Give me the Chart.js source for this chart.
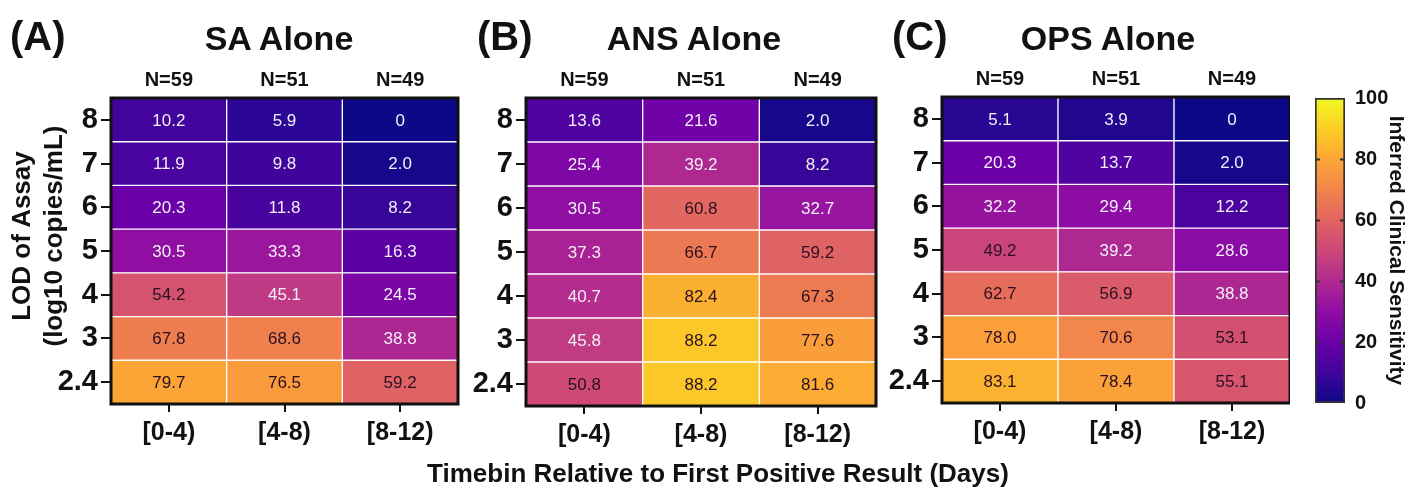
<!DOCTYPE html>
<html>
<head>
<meta charset="utf-8">
<script src="https://cdn.jsdelivr.net/npm/chart.js@4/dist/chart.umd.min.js"></script>
<style>
  body { margin:0; background:#fff; }
  #wrap { position:relative; width:1407px; height:491px; overflow:hidden; font-family:"Liberation Sans", Arial, sans-serif; color:#111; }
  canvas { position:absolute; top:0; }
  .lbl { position:absolute; font-weight:bold; white-space:nowrap; }
  .panel { font-size:40px; line-height:40px; top:16px; }
  .ttl { font-size:34px; line-height:34px; top:21px; transform:translateX(-50%); }
  .xt { font-size:26px; line-height:26px; top:460px; transform:translateX(-50%); }
  .yt { font-size:26px; line-height:32px; left:37px; top:236px; text-align:center; transform:translate(-50%,-50%) rotate(-90deg); }
</style>
</head>
<body>
<div id="wrap">
  <canvas id="chartA" width="465" height="491" style="left:0"></canvas>
  <canvas id="chartB" width="415" height="491" style="left:465px"></canvas>
  <canvas id="chartC" width="410" height="491" style="left:880px"></canvas>
  <canvas id="chartBar" width="117" height="491" style="left:1290px"></canvas>
  <div class="lbl panel" style="left:10px">(A)</div>
  <div class="lbl panel" style="left:477px">(B)</div>
  <div class="lbl panel" style="left:892px">(C)</div>
  <div class="lbl ttl" style="left:279px">SA Alone</div>
  <div class="lbl ttl" style="left:694px">ANS Alone</div>
  <div class="lbl ttl" style="left:1108px">OPS Alone</div>
  <div class="lbl yt">LOD of Assay<br>(log10 copies/mL)</div>
  <div class="lbl xt" style="left:718px">Timebin Relative to First Positive Result (Days)</div>
</div>
<script>
const timebins = ['[0-4)', '[4-8)', '[8-12)'];
const nCounts = [59, 51, 49];
const lodLevels = ['2.4', '3', '4', '5', '6', '7', '8'];

// rows go from LOD 2.4 (bottom) up to 8 (top), columns follow timebins
const saAlone = [
  [79.7, 76.5, 59.2],
  [67.8, 68.6, 38.8],
  [54.2, 45.1, 24.5],
  [30.5, 33.3, 16.3],
  [20.3, 11.8, 8.2],
  [11.9, 9.8, 2.0],
  [10.2, 5.9, 0]
];
const ansAlone = [
  [50.8, 88.2, 81.6],
  [45.8, 88.2, 77.6],
  [40.7, 82.4, 67.3],
  [37.3, 66.7, 59.2],
  [30.5, 60.8, 32.7],
  [25.4, 39.2, 8.2],
  [13.6, 21.6, 2.0]
];
const opsAlone = [
  [83.1, 78.4, 55.1],
  [78.0, 70.6, 53.1],
  [62.7, 56.9, 38.8],
  [49.2, 39.2, 28.6],
  [32.2, 29.4, 12.2],
  [20.3, 13.7, 2.0],
  [5.1, 3.9, 0]
];
const colorTicks = [0, 20, 40, 60, 80, 100];

const FONT = '"Liberation Sans", Arial, sans-serif';
Chart.defaults.font.family = FONT;
Chart.defaults.color = '#111';

// plasma colormap
const plasmaStops = ['#0d0887','#41049d','#6a00a8','#8f0da4','#b12a90','#cc4778','#e16462','#f2844b','#fca636','#fcce25','#f0f921'];
function hexRgb(h){ return [1,3,5].map(i=>parseInt(h.slice(i,i+2),16)); }
function plasma(v){
  let t = Math.max(0, Math.min(1, v/100))*10;
  let i = Math.min(9, Math.floor(t)), f = t-i;
  let a = hexRgb(plasmaStops[i]), b = hexRgb(plasmaStops[i+1]);
  let c = a.map((x,k)=>Math.round(x+(b[k]-x)*f));
  return 'rgb('+c.join(',')+')';
}

const cellText = {
  id:'cellText',
  afterDatasetsDraw(chart){
    const ctx = chart.ctx;
    ctx.save();
    ctx.font = '17px ' + FONT;
    ctx.textAlign = 'center';
    ctx.textBaseline = 'middle';
    chart.data.datasets.forEach((ds, di)=>{
      chart.getDatasetMeta(di).data.forEach((el, i)=>{
        const v = ds.cellValues[i];
        const p = el.getCenterPoint();
        ctx.fillStyle = v < 47 ? '#f4eef8' : '#2a1020';
        ctx.fillText(v === 0 ? '0' : v.toFixed(1), p.x, p.y + 1);
      });
    });
    ctx.restore();
  }
};

const frame = {
  id:'frame',
  afterDraw(chart){
    const a = chart.chartArea, ctx = chart.ctx;
    ctx.save();
    ctx.strokeStyle = '#111';
    ctx.lineWidth = 3;
    ctx.strokeRect(a.left, a.top, a.right-a.left, a.bottom-a.top);
    ctx.restore();
  }
};

// small inward tick marks on both edges of the colour bar
const innerTicks = {
  id:'innerTicks',
  afterDraw(chart){
    const a = chart.chartArea, ctx = chart.ctx, y = chart.scales.y;
    ctx.save();
    ctx.strokeStyle = '#333';
    ctx.lineWidth = 2;
    y.ticks.forEach(t=>{
      if (t.value === y.min || t.value === y.max) return;
      const py = Math.round(y.getPixelForValue(t.value)) + 0.5;
      ctx.beginPath();
      ctx.moveTo(a.left, py); ctx.lineTo(a.left + 5, py);
      ctx.moveTo(a.right - 5, py); ctx.lineTo(a.right, py);
      ctx.stroke();
    });
    ctx.restore();
  }
};

function makePanel(id, values, yW, rightPad, top, bottom){
  const datasets = values.map((row, r)=>({
    data: row.map(()=>[r, r+1]),
    cellValues: row,
    backgroundColor: row.map(plasma),
    borderColor: '#fff',
    borderWidth: 1,
    borderSkipped: false,
    grouped: false,
    barPercentage: 1,
    categoryPercentage: 1
  }));
  new Chart(document.getElementById(id), {
    type: 'bar',
    data: { labels: timebins, datasets },
    options: {
      responsive: false,
      animation: false,
      layout: { padding: { left:0, right:rightPad, top:0, bottom:0 } },
      plugins: { legend:{display:false}, tooltip:{enabled:false} },
      scales: {
        x: {
          position: 'bottom',
          grid: { offset:false, drawOnChartArea:false, tickLength:8, color:'#111', lineWidth:2 },
          border: { display:false },
          ticks: { font:{size:25, weight:'bold'}, padding:6, maxRotation:0 },
          afterFit: s => { s.height = 491 - bottom; }
        },
        xTop: {
          type: 'category',
          position: 'top',
          labels: nCounts.map(n=>'N=' + n),
          offset: true,
          grid: { display:false, drawTicks:false },
          border: { display:false },
          ticks: { font:{size:20, weight:'bold'}, padding:6, maxRotation:0 },
          afterFit: s => { s.height = top; }
        },
        y: {
          min: 0, max: lodLevels.length,
          afterBuildTicks: s => { s.ticks = lodLevels.map((l, i)=>({value: i + 0.5})); },
          ticks: { callback: v => lodLevels[Math.floor(v)], font:{size:29, weight:'bold'}, padding:3 },
          grid: { drawOnChartArea:false, tickLength:10, color:'#111', lineWidth:2 },
          border: { display:false },
          afterFit: s => { s.width = yW; }
        }
      }
    },
    plugins: [cellText, frame]
  });
}

makePanel('chartA', saAlone, 111, 7, 98, 404);
makePanel('chartB', ansAlone, 61, 4, 98, 406);
makePanel('chartC', opsAlone, 62, 0, 97, 403);

// colour bar
new Chart(document.getElementById('chartBar'), {
  type: 'bar',
  data: {
    labels: ['scale'],
    datasets: [{
      data: [[colorTicks[0], colorTicks[colorTicks.length-1]]],
      backgroundColor: c => {
        const a = c.chart.chartArea;
        if (!a) return plasma(50);
        const g = c.chart.ctx.createLinearGradient(0, a.bottom, 0, a.top);
        plasmaStops.forEach((s, i)=>g.addColorStop(i/10, s));
        return g;
      },
      borderColor: '#333',
      borderWidth: 2,
      borderSkipped: false,
      barPercentage: 1,
      categoryPercentage: 1
    }]
  },
  options: {
    responsive: false,
    animation: false,
    layout: { padding: { left:25, right:0, top:98, bottom:88 } },
    plugins: { legend:{display:false}, tooltip:{enabled:false} },
    scales: {
      x: { display:false },
      y: {
        position: 'right',
        min: colorTicks[0], max: colorTicks[colorTicks.length-1],
        afterBuildTicks: s => { s.ticks = colorTicks.map(v=>({value:v})); },
        grid: { display:false, drawTicks:false },
        border: { display:false },
        ticks: { font:{size:20, weight:'bold'}, padding:10 },
        title: {
          display: true,
          text: 'Inferred Clinical Sensitivity',
          font: { size:21, weight:'bold', lineHeight:1 },
          padding: { top:1, bottom:0 }
        },
        afterFit: s => { s.width = 62; }
      }
    }
  },
  plugins: [innerTicks]
});
</script>
</body>
</html>
